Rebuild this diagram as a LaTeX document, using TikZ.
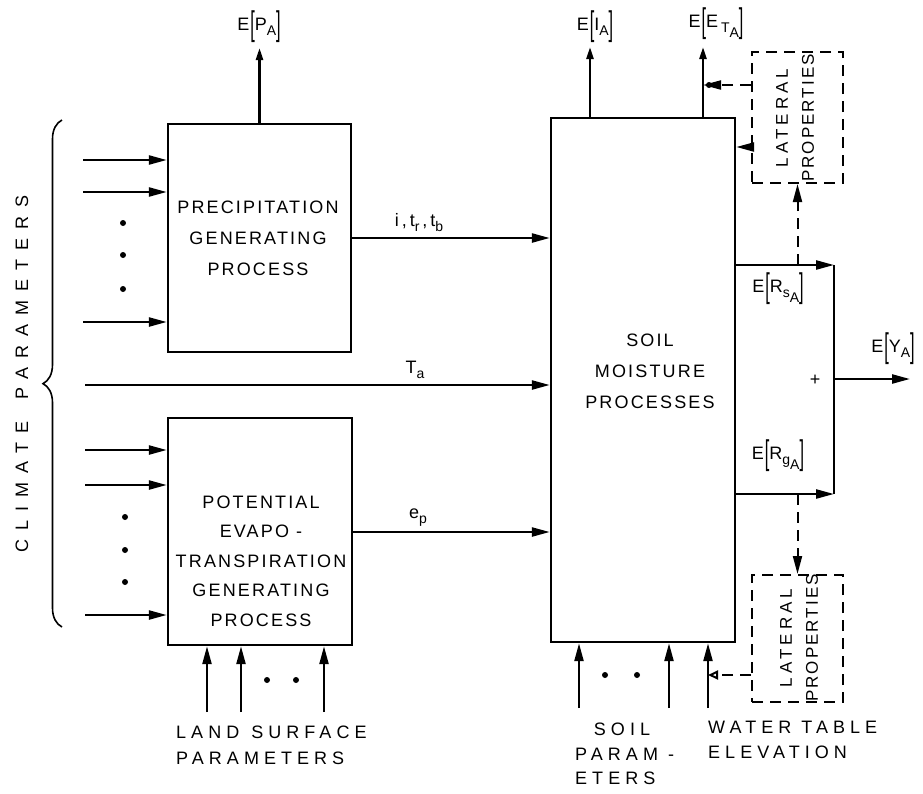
\documentclass[tikz,border=0pt]{standalone}
\usepackage{fontspec}
\usepackage{graphicx}
\setmainfont{Liberation Sans}
\newfontfamily\lett[LetterSpace=12]{Liberation Sans}
\newfontfamily\lettw[LetterSpace=28]{Liberation Sans}
\newfontfamily\lettc[LetterSpace=50]{Liberation Sans}
\usetikzlibrary{arrows.meta,decorations.pathreplacing}
\newcommand\fsz[1]{\fontsize{#1}{#1}\selectfont}
\newcommand\Ebr[1]{E\kern1pt\raisebox{-5pt}{\scalebox{0.9}[1.9]{[}}#1\raisebox{-5pt}{\scalebox{0.9}[1.9]{]}}}
\newcommand\lsub[1]{\raisebox{-5pt}{\fsz{14}#1}}
\tikzset{
  box/.style={draw, line width=2.4pt, inner sep=0pt},
  dbox/.style={draw, line width=2pt, dash pattern=on 11pt off 7pt, inner sep=0pt},
  txt/.style={font=\lett\fontsize{18}{31}\selectfont, align=center, inner sep=0pt},
  wtxt/.style={font=\lettw\fontsize{18}{26}\selectfont, align=left, inner sep=0pt},
  lab/.style={font=\lett\fsz{18}, inner sep=0pt},
  conn/.style={line width=2.4pt, -{Triangle[length=18pt,width=9pt]}},
  sconn/.style={line width=2.4pt, -{Triangle[length=12pt,width=7pt]}},
  dconn/.style={line width=2pt, dash pattern=on 11pt off 7pt, -{Triangle[length=18pt,width=9pt]}},
  plain/.style={line width=2.4pt},
  dotc/.style={fill, circle, inner sep=0pt, minimum size=6pt},
}
\begin{document}
\begin{tikzpicture}[x=1pt,y=-1pt]
\useasboundingbox (0,0) rectangle (923,793);

% boxes
\node[box, minimum width=183pt, minimum height=228pt] (precip) at (259.5,238) {};
\node[box, minimum width=184pt, minimum height=227pt] (pet) at (260,531.5) {};
\node[box, minimum width=184pt, minimum height=524pt] (soil) at (643,380) {};
\node[dbox, minimum width=91pt, minimum height=131pt] (lat1) at (797.5,117.5) {};
\node[dbox, minimum width=91pt, minimum height=127pt] (lat2) at (797.5,638.5) {};

% box texts
\node[txt] (ptxt) at (258,238) {PRECIPITATION\\GENERATING\\PROCESS};
\node[txt, font=\lett\fontsize{18}{29.5}\selectfont] (etxt) at (261,561) {POTENTIAL\\EVAPO -\\TRANSPIRATION\\GENERATING\\PROCESS};
\node[txt] (stxt) at (650,371) {SOIL\\MOISTURE\\PROCESSES};
\node[txt, rotate=90, font=\lett\fontsize{17}{26}\selectfont] (l1t) at (795,118) {{\addfontfeature{LetterSpace=24}LATERAL}\\PROPERTIES};
\node[txt, rotate=90, font=\lett\fontsize{17}{26}\selectfont] (l2t) at (799,638) {{\addfontfeature{LetterSpace=24}LATERAL}\\PROPERTIES};

% climate parameters
\node[rotate=90, inner sep=0pt, font=\lettc\fsz{18}] (clim) at (22,374) {CLIMATE\hspace{22pt}PARAMETERS};
\draw[line width=1.6pt, decorate, decoration={brace, amplitude=19pt, aspect=0.48}] (62,627) -- (62,120);

% precipitation inputs
\coordinate (pi1) at (83,160);
\coordinate (pi2) at (83,192);
\coordinate (pi3) at (83,322);
\foreach \c in {pi1,pi2,pi3} \draw[conn] (\c) -- (\c -| precip.west);
\node[dotc] (pd1) at (123,223) {};
\node[dotc] (pd2) at (123,255) {};
\node[dotc] (pd3) at (123,289) {};

% PET inputs
\coordinate (ei1) at (85,450);
\coordinate (ei2) at (85,485);
\coordinate (ei3) at (85,615);
\foreach \c in {ei1,ei2,ei3} \draw[conn] (\c) -- (\c -| pet.west);
\node[dotc] (ed1) at (125,517) {};
\node[dotc] (ed2) at (125,550) {};
\node[dotc] (ed3) at (125,582) {};

% land surface inputs
\coordinate (ls1) at (207,712);
\coordinate (ls2) at (241,712);
\coordinate (ls3) at (324,712);
\foreach \c in {ls1,ls2,ls3} \draw[conn] (\c) -- (\c |- pet.south);
\node[dotc] (lsd1) at (267,680) {};
\node[dotc] (lsd2) at (296,680) {};
\node[wtxt, anchor=west] (lsp) at (176,745) {LAND\hspace{12pt}SURFACE\\PARAMETERS};

% soil inputs
\coordinate (sp1) at (579,708);
\coordinate (sp2) at (669,708);
\coordinate (wt) at (708,708);
\foreach \c in {sp1,sp2,wt} \draw[conn] (\c) -- (\c |- soil.south);
\node[dotc] (spd1) at (605,675) {};
\node[dotc] (spd2) at (637,675) {};
\node[wtxt] (soilp1) at (622,729) {SOIL};
\node[wtxt, anchor=west] (soilp2) at (575,754) {PARAM -};
\node[wtxt, anchor=west] (soilp3) at (575,778) {ETERS};
\node[wtxt, anchor=west, font=\lettw\fontsize{18}{25}\selectfont] (wtl) at (708,740) {WATER\hspace{10pt}TABLE\\ELEVATION};
\coordinate (y675) at (0,675);
\draw[line width=2pt, dash pattern=on 11pt off 7pt, -{Triangle[open,length=10pt,width=9pt]}] (lat2.west |- y675) -- (wt |- y675);

% flows into soil box
\coordinate (r1) at (0,238);
\coordinate (r2) at (0,385);
\coordinate (r3) at (0,532);
\coordinate (ta0) at (85,385);
\draw[conn] (precip.east |- r1) -- (soil.west |- r1);
\draw[conn] (ta0) -- (soil.west |- r2);
\draw[conn] (pet.east |- r3) -- (soil.west |- r3);
\node[lab] (litr) at (419,223) {i\,,\,t\lsub{r}\,,\,t\lsub{b}};
\node[lab] (lTa) at (415,370) {T\lsub{a}};
\node[lab] (lep) at (418,518) {e\lsub{p}};

% outputs top
\coordinate (pa) at (259.5,48);
\coordinate (ia) at (590,47);
\coordinate (et) at (703,47);
\draw[sconn] (precip.north) -- (pa);
\draw[sconn] (ia |- soil.north) -- (ia);
\draw[sconn] (et |- soil.north) -- (et);
\node[lab] (lPA) at (259,27) {\Ebr{P\lsub{A}}};
\node[lab] (lIA) at (595,27) {\Ebr{I\lsub{A}}};
\node[lab] (lET) at (716,24) {\Ebr{E\,\lsub{T\lsub{A}}}};

% lateral properties (upper)
\coordinate (y85) at (0,85);
\coordinate (y147) at (0,147);
\draw[dconn] (lat1.west |- y85) -- (et |- y85);
\node[dotc] (etd) at (709,85) {};
\draw[conn] (lat1.west |- y147) -- (soil.east |- y147);

% right side summation
\coordinate (ys) at (0,265);
\coordinate (yg) at (0,494);
\coordinate (yy) at (0,379);
\coordinate (cR) at (834,0);
\coordinate (yout) at (910,379);
\draw[conn] (soil.east |- ys) -- (cR |- ys);
\draw[conn] (soil.east |- yg) -- (cR |- yg);
\draw[plain] (cR |- ys) -- (cR |- yg);
\draw[conn] (cR |- yy) -- (yout);
\draw[dconn] (lat1.south |- ys) -- (lat1.south);
\draw[dconn] (lat2.north |- yg) -- (lat2.north);
\node[lab] (plus) at (815,380) {+};
\node[lab] (lRs) at (778,289) {\Ebr{R\lsub{s\lsub{A}}}};
\node[lab] (lRg) at (778,456) {\Ebr{R\lsub{g\lsub{A}}}};
\node[lab] (lY) at (893,349) {\Ebr{Y\lsub{A}}};
\end{tikzpicture}
\end{document}
